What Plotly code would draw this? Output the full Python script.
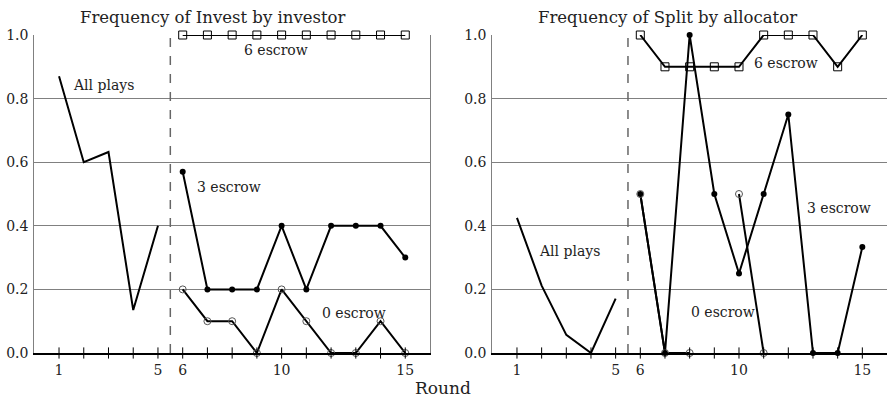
import plotly.graph_objects as go

rounds_pre = [1, 2, 3, 4, 5]
rounds_post = [6, 7, 8, 9, 10, 11, 12, 13, 14, 15]
all_rounds = list(range(1, 16))

# Left panel: Frequency of Invest by investor
inv_all = [0.87, 0.60, 0.632, 0.135, 0.40]
inv_e3 = [0.57, 0.2, 0.2, 0.2, 0.4, 0.2, 0.4, 0.4, 0.4, 0.3]
inv_e0 = [0.2, 0.1, 0.1, 0.0, 0.2, 0.1, 0.0, 0.0, 0.1, 0.0]
inv_e6 = [1.0] * 10

# Right panel: Frequency of Split by allocator
spl_all = [0.425, 0.212, 0.057, 0.0, 0.171]
spl_e3 = [0.5, 0.0, 1.0, 0.5, 0.25, 0.5, 0.75, 0.0, 0.0, 0.333]
spl_e0 = [0.5, 0.0, 0.0, None, 0.5, 0.0, None, None, None, None]
spl_e6 = [1.0, 0.9, 0.9, 0.9, 0.9, 1.0, 1.0, 1.0, 0.9, 1.0]

xtick_vals = [1, 5, 6, 10, 15]
ytick_vals = [0.0, 0.2, 0.4, 0.6, 0.8, 1.0]

FONT = "DejaVu Serif"
LINE = dict(color="black", width=2)
GRID = "#808080"

fig = go.Figure()


def add_panel(xa, ya, s_all, e3, e0, e6):
    common = dict(xaxis=xa, yaxis=ya, showlegend=False, cliponaxis=False, hoverinfo="skip")
    fig.add_trace(go.Scatter(x=rounds_pre, y=s_all, mode="lines", line=LINE, **common))
    fig.add_trace(go.Scatter(x=rounds_post, y=e3, mode="lines+markers", line=LINE,
                             marker=dict(symbol="circle", size=6, color="black"), **common))
    fig.add_trace(go.Scatter(x=rounds_post, y=e0, mode="lines+markers", line=LINE,
                             marker=dict(symbol="circle-open", size=7, color="#555",
                                         line=dict(width=1)), **common))
    fig.add_trace(go.Scatter(x=rounds_post, y=e6, mode="lines+markers", line=LINE,
                             marker=dict(symbol="square-open", size=8, color="black",
                                         line=dict(width=1)), **common))
    # tick marks crossing the axis
    fig.add_trace(go.Scatter(x=all_rounds, y=[0] * len(all_rounds), mode="markers",
                             marker=dict(symbol="line-ns", size=8,
                                         line=dict(color="black", width=1)), **common))


add_panel("x", "y", inv_all, inv_e3, inv_e0, inv_e6)
add_panel("x2", "y2", spl_all, spl_e3, spl_e0, spl_e6)

ydom = [1 - 353 / 401, 1 - 35 / 401]
xaxis_common = dict(range=[0, 16], tickmode="array", tickvals=xtick_vals,
                    ticks="", showgrid=False, zeroline=False, showline=True,
                    linecolor="black", linewidth=1.5, ticklabelstandoff=3,
                    automargin=False,
                    tickfont=dict(family=FONT, size=14, color="#222"))
yaxis_common = dict(range=[0, 1.0], tickmode="array", tickvals=ytick_vals,
                    tickformat=".1f", ticks="", showgrid=True, gridcolor=GRID,
                    gridwidth=1.2, zeroline=False, showline=True, linecolor=GRID,
                    linewidth=1.2, ticklabelstandoff=2, automargin=False,
                    tickfont=dict(family=FONT, size=14, color="#222"))

fig.update_layout(
    width=887, height=401,
    margin=dict(l=0, r=0, t=0, b=0),
    paper_bgcolor="white", plot_bgcolor="white",
    xaxis=dict(domain=[34.3 / 887, 430 / 887], anchor="y", **xaxis_common),
    yaxis=dict(domain=ydom, anchor="x", mirror=True, **yaxis_common),
    xaxis2=dict(domain=[492.3 / 887, 1.0], anchor="y2", **xaxis_common),
    yaxis2=dict(domain=ydom, anchor="x2", **yaxis_common),
)

# dashed separators at 5.5
for xr, yr in (("x", "y"), ("x2", "y2")):
    fig.add_shape(type="line", xref=xr, yref=yr, x0=5.5, x1=5.5, y0=0, y1=1.0,
                  line=dict(color="#666", width=1.5, dash="dash"))

ann_font = dict(family=FONT, size=14, color="#222")
labels = [
    ("x", "y", 1.5, 0.843, "All plays", "left"),
    ("x", "y", 9.76, 0.953, "6 escrow", "center"),
    ("x", "y", 6.48, 0.522, "3 escrow", "left"),
    ("x", "y", 11.54, 0.126, "0 escrow", "left"),
    ("x2", "y2", 10.51, 0.912, "6 escrow", "left"),
    ("x2", "y2", 12.66, 0.456, "3 escrow", "left"),
    ("x2", "y2", 7.96, 0.129, "0 escrow", "left"),
    ("x2", "y2", 1.80, 0.321, "All plays", "left"),
]
for xr, yr, x, y, t, xa in labels:
    fig.add_annotation(xref=xr, yref=yr, x=x, y=y, text=t, showarrow=False,
                       xanchor=xa, yanchor="middle", font=ann_font)

title_font = dict(family=FONT, size=16.5, color="#222")
fig.add_annotation(xref="paper", yref="paper", x=212 / 887, y=1 - 17 / 401,
                   text="Frequency of Invest by investor", showarrow=False,
                   xanchor="center", yanchor="middle", font=title_font)
fig.add_annotation(xref="paper", yref="paper", x=667 / 887, y=1 - 17 / 401,
                   text="Frequency of Split by allocator", showarrow=False,
                   xanchor="center", yanchor="middle", font=title_font)
fig.add_annotation(xref="paper", yref="paper", x=443 / 887, y=1 - 388 / 401,
                   text="Round", showarrow=False,
                   xanchor="center", yanchor="middle",
                   font=dict(family=FONT, size=17, color="#222"))

fig.write_html("out.html", config={"displayModeBar": False},
               post_script="document.body.style.margin='0px';document.body.style.overflow='hidden';")
